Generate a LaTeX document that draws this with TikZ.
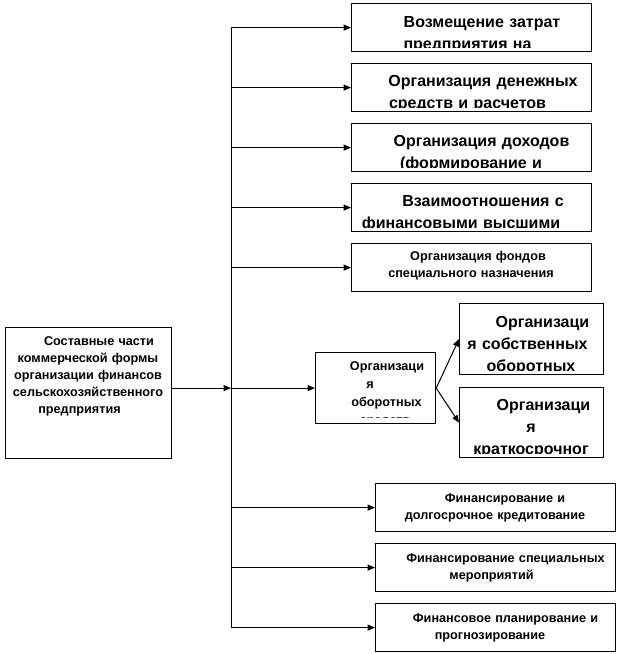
\documentclass[tikz,border=0pt]{standalone}
\usepackage{fontspec}
\setmainfont{Liberation Sans}
\usetikzlibrary{arrows.meta}

% shift of one centred line
\newcommand{\sh}[1]{\hspace*{#1pt}}

\tikzset{
  panel/.style={draw, line width=0.9pt, inner sep=0pt, anchor=north west},
  widepanel/.style={panel, minimum width=180pt, minimum height=36pt},
  bigtxt/.style={anchor=base, inner sep=0pt, text width=200pt, align=center,
    font=\bfseries\fontsize{12}{16.5}\selectfont},
  smalltxt/.style={bigtxt, font=\bfseries\fontsize{9.5}{12.75}\selectfont},
  link/.style={line width=0.75pt, -{Triangle[length=5.5pt,width=4.5pt]}},
}

\begin{document}
\begin{tikzpicture}[x=0.75pt, y=-0.75pt]
  \useasboundingbox (0,0) rectangle (618,654);

  % boxes along the spine
  \node[widepanel] (zatr)   at (351,3)   {};
  \node[widepanel] (dengi)  at (351,63)  {};
  \node[widepanel] (dohod)  at (351,123) {};
  \node[widepanel] (vzaim)  at (351,183) {};
  \node[widepanel] (fond)   at (351,243) {};
  \node[widepanel] (dolg)   at (375,483) {};
  \node[widepanel] (meropr) at (375,543) {};
  \node[widepanel] (plan)   at (375,603) {};
  % main box and the working capital boxes
  \node[panel, minimum width=124.5pt, minimum height=98.25pt] (osn) at (5,327) {};
  \node[panel, minimum width=90pt, minimum height=53.25pt] (obor) at (315,352) {};
  \node[panel, minimum width=108pt, minimum height=53.25pt] (sobst) at (459,303) {};
  \node[panel, minimum width=108pt, minimum height=52.5pt] (kratk) at (459,387) {};

  % texts, cut at the inner margin of each box
  \begin{scope}
    \clip ([yshift=3.6pt]zatr.south west) rectangle (zatr.north east);
    \node[bigtxt] (zatr-t) at (471,27.5) {\sh{16.5}Возмещение затрат\\\sh{-5.25}предприятия на};
  \end{scope}
  \begin{scope}
    \clip ([yshift=3.6pt]dengi.south west) rectangle (dengi.north east);
    \node[bigtxt] (dengi-t) at (471,86.5) {\sh{18}Организация денежных\\\sh{-5.25}средств и расчетов};
  \end{scope}
  \begin{scope}
    \clip ([yshift=3.6pt]dohod.south west) rectangle (dohod.north east);
    \node[bigtxt] (dohod-t) at (471,146.5) {\sh{15.75}Организация доходов\\(формирование и};
  \end{scope}
  \begin{scope}
    \clip ([yshift=3.6pt]vzaim.south west) rectangle (vzaim.north east);
    \node[bigtxt] (vzaim-t) at (471,206) {\sh{18}Взаимоотношения с\\\sh{-15}финансовыми высшими};
  \end{scope}
  \node[smalltxt] (fond-t) at (471,260) {\sh{10.5}Организация фондов\\специального назначения};

  \node[smalltxt] (osn-t) at (88,345) {\sh{16.5}Составные части\\коммерческой формы\\организации финансов\\сельскохозяйственного\\\sh{-12.75}предприятия};

  \begin{scope}
    \clip ([yshift=5.4pt]obor.south west) rectangle (obor.north east);
    \node[smalltxt, font=\bfseries\fontsize{9.5}{13.5}\selectfont] (obor-t) at (375,370)
      {\sh{18}Организаци\\\sh{-7.5}я\\\sh{17.25}оборотных\\\sh{15}средств};
  \end{scope}
  \begin{scope}
    \clip ([yshift=3.6pt]sobst.south west) rectangle (sobst.north east);
    \node[bigtxt] (sobst-t) at (531,327)
      {\sh{17.25}Организаци\\\sh{-5.25}я собственных\\оборотных};
  \end{scope}
  \begin{scope}
    \clip ([yshift=3.6pt]kratk.south west) rectangle (kratk.north east);
    \node[bigtxt] (kratk-t) at (531,410)
      {\sh{18.75}Организаци\\я\\краткосрочног};
  \end{scope}

  \node[smalltxt] (dolg-t) at (495,502) {\sh{15}Финансирование и\\долгосрочное кредитование};
  \node[smalltxt] (meropr-t) at (495,562) {\sh{15.75}Финансирование специальных\\\sh{-5.25}мероприятий};
  \node[smalltxt] (plan-t) at (495,622) {\sh{15.75}Финансовое планирование и\\\sh{-7.5}прогнозирование};

  % spine and arrows
  \coordinate (top) at (231,27);
  \coordinate (bot) at (231,627);
  \draw[line width=0.75pt] (top) -- (bot);
  \foreach \b in {zatr,dengi,dohod,vzaim,fond,obor,dolg,meropr,plan}
    \draw[link] (top |- \b.west) -- (\b.west);
  \draw[link] (osn.east |- obor.west) -- (top |- obor.west);
  \draw[link] (obor.east) -- (sobst.west);
  \draw[link] (obor.east) -- (kratk.west);
\end{tikzpicture}
\end{document}
